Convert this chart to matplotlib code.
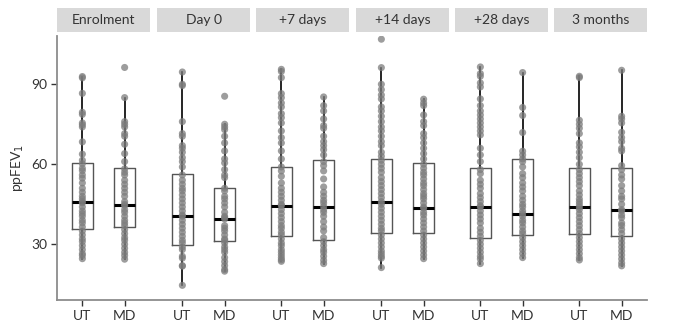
import numpy as np
import matplotlib
matplotlib.use('Agg')
import matplotlib.pyplot as plt
from matplotlib.lines import Line2D

plt.rcParams['font.family'] = ['Lato', 'DejaVu Sans']

# time points and groups
timepoints = ['Enrolment', 'Day 0', '+7 days', '+14 days', '+28 days', '3 months']
groups = ['UT', 'MD']

# individual ppFEV1 values
enrol_ut = [92.9, 92.4, 86.6, 79.5, 78.7, 75.5, 74.8, 74, 68.4, 63.8, 61.5,
            60.2, 58.5, 57.6, 56, 54.8, 53, 51, 49.5, 48, 47, 46, 45.5, 44, 42.5, 41.5, 40.5, 39, 38, 36.5,
            35, 33.5, 32, 31, 29.5, 28, 26.5, 25.8, 24.6]
enrol_md = [96.3, 85, 76, 75, 74, 71.5, 70.5, 67.5, 64, 61,
            58.3, 57, 56, 54, 52.5, 51, 49.5, 48, 46, 45, 44.5, 43, 42, 40.5, 39, 38, 37,
            35.5, 34, 32.5, 31.5, 30, 28.5, 27, 25.8, 24.4]
day0_ut = [94.6, 90, 89.5, 76, 71.5, 70.5, 67, 66, 64.5, 62.5, 61, 59,
           56, 54, 52.5, 51, 50, 48.5, 47, 45.5, 44, 42.5, 41, 40.5, 39, 37.5, 36, 34.5, 33, 31.5, 30.5,
           29, 28, 25.5, 24.8, 22, 21.8, 14.6]
day0_md = [85.5, 75, 74, 73, 70.5, 68, 65, 62, 60.5, 58, 56, 55,
           51, 50, 48, 47, 45.5, 44, 42, 40.5, 40, 39.5, 37, 36, 35, 33.5, 32, 31.5,
           30.5, 29, 28, 27, 25, 23.5, 22, 20.5, 19.9]
d7_ut = [95.6, 94.8, 92.5, 86.5, 85, 83, 81.5, 79, 77.5, 75.5, 72.5, 70, 68, 65, 62,
         59, 57.5, 55.5, 53, 51, 49.5, 48, 46.5, 45, 44.5, 43, 41.5, 40, 38.5, 37, 36, 34.5, 33.5,
         32, 30.5, 29.5, 28, 27, 26, 25, 24.2, 23.6]
d7_md = [85.25, 82, 80, 77, 74.5, 73.5, 70.5, 68.5, 67, 65.5, 63.5,
         61, 59.5, 57.5, 54.5, 51.5, 49.5, 48, 46.5, 45.5, 44.2, 43, 42, 40.5, 38.5, 36.5, 35, 32.5,
         31, 29.5, 28, 27, 25.5, 24, 22.75]
d14_ut = [106.9, 96.25, 90, 88, 86, 84.5, 81.5, 80, 78, 76, 74, 72.5, 70.5, 68.5, 67, 64.5, 63,
          61.5, 60, 58.5, 57, 55, 53.5, 52, 50.5, 49, 47.5, 46, 45, 43.5, 42, 40.5, 39, 37.5, 36, 35,
          33.5, 32, 30.5, 29, 27.5, 26.5, 25.5, 24.8, 21.25]
d14_md = [84.4, 83, 82, 78.5, 76, 74.5, 71.5, 70, 68, 66, 64, 62,
          60, 58.5, 57, 56, 54.5, 53, 52, 50.5, 49, 48, 47, 45.5, 44, 43.5, 42, 41, 39.5, 38, 36.5, 35,
          33.5, 32, 30.5, 29, 27.5, 26, 24.6]
d28_ut = [96.5, 94, 93, 90.5, 89, 84.5, 82, 80, 78.5, 77, 75.5, 74, 72.5, 71, 66, 63.5, 61,
          58, 56.5, 54, 52.5, 51, 49, 47.5, 46, 44.5, 44, 42.5, 41, 39.5, 38, 36, 34.5, 33,
          31.5, 30, 28.5, 27, 25.5, 24.5, 22.75]
d28_md = [94.4, 81.3, 78.3, 71.9, 64.9, 63.5, 62,
          61, 59, 56.5, 55, 53, 51.5, 50, 48, 46.5, 45, 44, 42.5, 41.5, 40.5, 39, 38, 36.5, 35, 34,
          32.5, 31, 29.5, 28, 26.5, 25]
m3_ut = [93, 92.5, 76.5, 75, 73.5, 71.5, 68, 66.5, 64.5, 62.5, 60,
         58, 56.5, 55, 53.5, 52, 50, 48.5, 47, 46, 45, 44, 43, 41.5, 40, 38.5, 37, 35.5, 34,
         32.5, 31, 29.5, 28, 26.5, 25, 24.1]
m3_md = [95.25, 78, 77, 75.5, 72, 70, 68.5, 66, 65, 59.5,
         58, 56, 54.5, 52, 50, 48, 47, 45, 43, 42.5, 41, 40, 38, 37, 35.5, 34,
         32, 30.5, 29, 27.5, 26, 24.5, 23, 21.9]

points = [[enrol_ut, enrol_md], [day0_ut, day0_md], [d7_ut, d7_md],
          [d14_ut, d14_md], [d28_ut, d28_md], [m3_ut, m3_md]]

# box statistics per panel: (UT, MD)
q1 = [[35.75, 36.5], [29.75, 31.1], [33.0, 31.5], [34.4, 34.4], [32.4, 33.4], [33.75, 33.1]]
med = [[45.75, 44.75], [40.6, 39.6], [44.5, 44.1], [46.0, 43.75], [44.1, 41.5], [44.1, 42.75]]
q3 = [[60.6, 58.5], [56.4, 51.0], [59.1, 61.5], [61.9, 60.4], [58.5, 61.9], [58.5, 58.5]]
whislo = [[24.6, 24.4], [14.6, 19.9], [23.6, 22.75], [21.25, 24.6], [22.75, 25.0], [24.1, 21.9]]
whishi = [[92.9, 85.0], [94.6, 75.0], [95.6, 85.25], [96.25, 84.4], [96.5, 94.4], [93.0, 95.25]]

fig = plt.figure(figsize=(6.78, 3.32), dpi=100)

W, H = 678, 332
lefts = [57, 157, 256, 356, 455, 554]
pw = 93
y_bot, y_top = 300, 36
txt = '#333333'
spine_c = '#8c8c8c'

axes = []
for i, tp in enumerate(timepoints):
    ax = fig.add_axes([lefts[i] / W, 1 - y_bot / H, pw / W, (y_bot - y_top) / H])
    axes.append(ax)
    stats = []
    for g in range(2):
        stats.append(dict(med=med[i][g], q1=q1[i][g], q3=q3[i][g],
                          whislo=whislo[i][g], whishi=whishi[i][g], fliers=[]))
    ax.bxp(stats, positions=[1, 2], widths=0.5, showfliers=False, showcaps=False,
           boxprops=dict(color='#555555', linewidth=1.0),
           whiskerprops=dict(color='black', linewidth=1.2),
           medianprops=dict(color='black', linewidth=2.2))
    for g in range(2):
        vals = points[i][g]
        ax.scatter(np.full(len(vals), g + 1), vals, s=26, color='#7c7c7c',
                   alpha=0.75, edgecolors='none', zorder=3)
    ax.set_xlim(0.4, 2.6)
    ax.set_ylim(9.1, 108.1)
    ax.set_xticks([1, 2])
    ax.set_xticklabels(groups, fontsize=10, color=txt)
    ax.tick_params(axis='x', length=4, width=1, color='#333333', pad=3)
    for s in ['top', 'right', 'bottom']:
        ax.spines[s].set_visible(False)
    if i == 0:
        ax.spines['left'].set_color(spine_c)
        ax.spines['left'].set_linewidth(1.3)
        ax.set_yticks([30, 60, 90])
        ax.tick_params(axis='y', length=4, width=1, color='#333333', labelsize=10,
                       labelcolor=txt, pad=3)
        ax.set_ylabel('ppFEV$_1$', fontsize=10, color=txt, labelpad=4)
    else:
        ax.spines['left'].set_visible(False)
        ax.set_yticks([])
    ax.patch.set_alpha(0)

    # strip header
    hx = lefts[i] / W
    hy = 1 - 32 / H
    fig.patches.append(plt.Rectangle((hx, hy), pw / W, 24 / H, transform=fig.transFigure,
                                     facecolor='#d9d9d9', edgecolor='none'))
    fig.text(hx + pw / W / 2, hy + 12 / H, tp, ha='center', va='center', fontsize=10, color=txt)

# continuous bottom axis line
fig.lines.append(Line2D([lefts[0] / W, (lefts[-1] + pw) / W], [1 - y_bot / H, 1 - y_bot / H],
                        transform=fig.transFigure, color=spine_c, linewidth=1.3))

fig.savefig('out.png', dpi=100)
